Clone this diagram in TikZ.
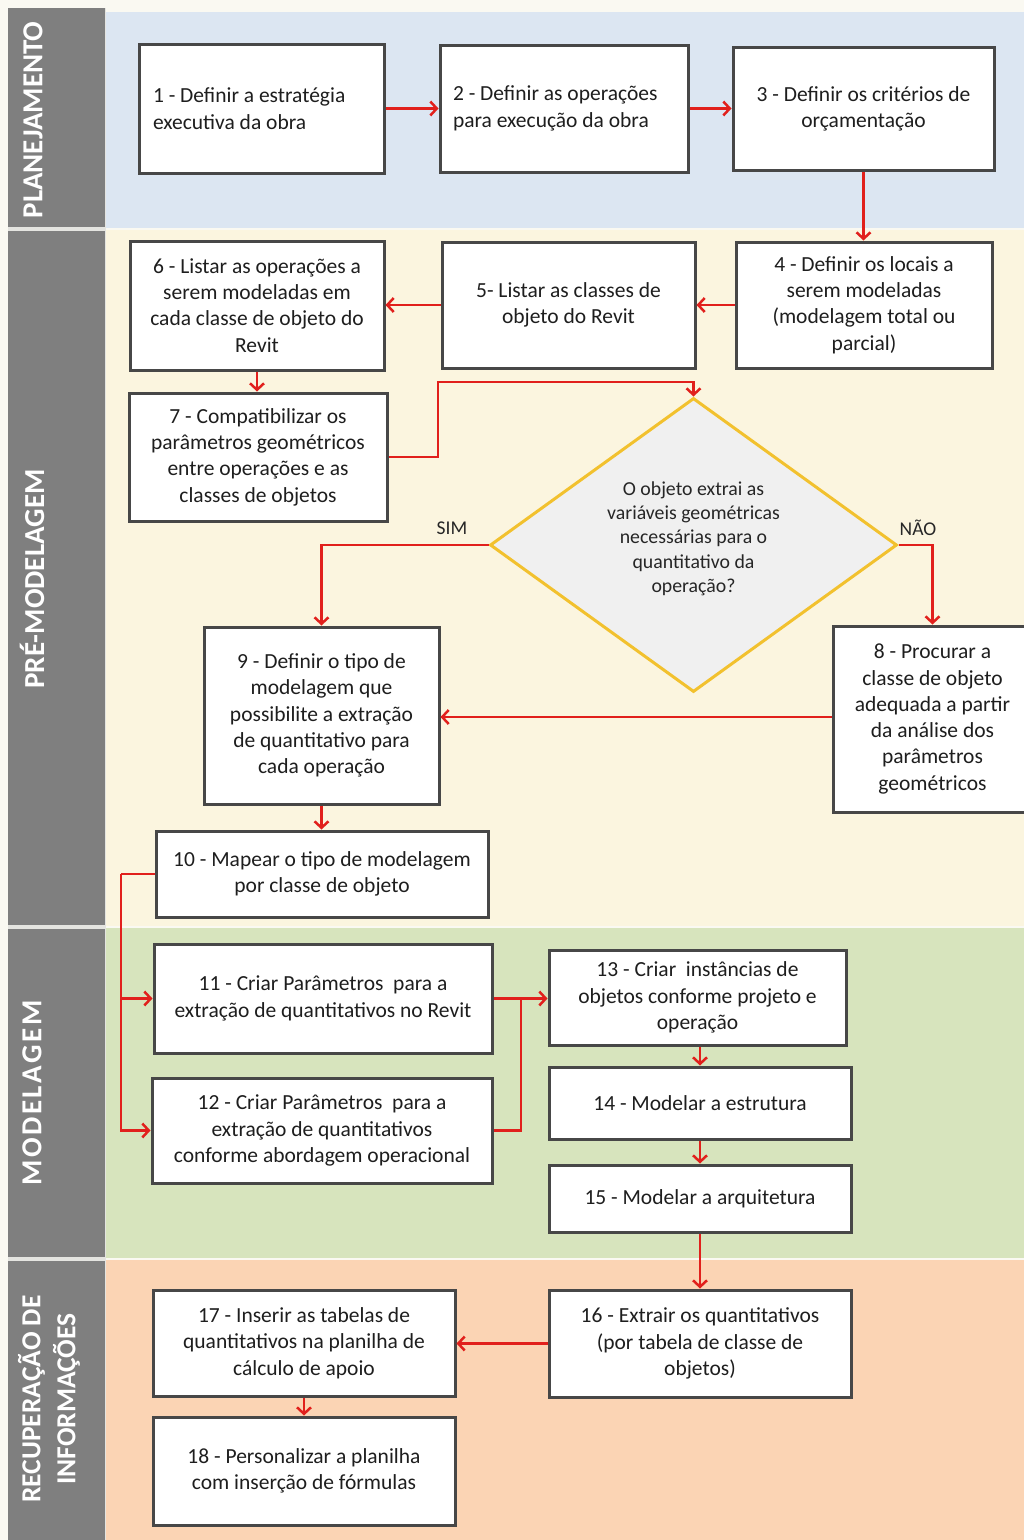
\documentclass[tikz,border=0pt]{standalone}
\usepackage{fontspec}
\setmainfont{Carlito}
\usetikzlibrary{arrows.meta,shapes.geometric}

\definecolor{lanegray}{HTML}{7F7F7F}
\definecolor{lanesep}{HTML}{E4E4E0}
\definecolor{pagebg}{HTML}{FAF9F2}
\definecolor{planbg}{HTML}{DCE6F2}
\definecolor{prebg}{HTML}{FBF5DF}
\definecolor{modbg}{HTML}{D7E4BD}
\definecolor{recbg}{HTML}{FBD4B4}
\definecolor{flowred}{HTML}{E1201C}
\definecolor{boxline}{HTML}{474747}
\definecolor{decline}{HTML}{F2C12E}
\definecolor{decfill}{HTML}{F0F0F0}
\definecolor{inktext}{HTML}{1E1E1E}

\begin{document}
\begin{tikzpicture}[x=1pt,y=-1pt,
  stepbox/.style={draw=boxline, line width=3pt, fill=white, align=center,
    inner sep=3pt, text=inktext, font=\fontsize{21.5}{26.3}\selectfont},
  leftbox/.style={stepbox, align=flush left},
  decision/.style={diamond, draw=decline, line width=3pt, fill=decfill,
    inner sep=0pt, shape aspect=1.38},
  qtext/.style={align=center, font=\fontsize{19.8}{24.3}\selectfont, text=black!85},
  branch/.style={font=\fontsize{19.5}{22}\selectfont, text=black!85},
  lanelbl/.style={text=white, rotate=90, align=center,
    font=\bfseries\fontsize{29}{35}\selectfont},
  wire/.style={draw=flowred, line width=2.5pt},
  flow/.style={wire, -{Straight Barb[length=6.5pt,width=14pt]}}
]
\useasboundingbox (0,0) rectangle (1024,1540);
\clip (0,0) rectangle (1024,1540);

% page and swimlane backgrounds
\fill[pagebg] (0,0) rectangle (1024,1540);
\fill[planbg] (106,12) rectangle (1024,228);
\fill[prebg]  (106,230) rectangle (1024,926);
\fill[modbg]  (106,928) rectangle (1024,1258);
\fill[recbg]  (106,1260) rectangle (1024,1540);

% lane title column
\fill[lanesep] (8,8) rectangle (106,1540);
\fill[lanegray] (8,8) rectangle (105,227);
\fill[lanegray] (8,231) rectangle (105,925);
\fill[lanegray] (8,929) rectangle (105,1257);
\fill[lanegray] (8,1261) rectangle (105,1540);

\node[lanelbl] (lplan) at (33,120) {PLANEJAMENTO};
\node[lanelbl] (lpre)  at (32,579) {PRÉ-MODELAGEM};
\node[lanelbl] (lmod)  at (32,1093) {\addfontfeatures{LetterSpace=9}MODELAGEM};
\node[lanelbl, font=\bfseries\fontsize{27.5}{35}\selectfont] (lrec) at (49,1399)
  {RECUPERAÇÃO DE\\INFORMAÇÕES};

% planning
\node[leftbox, minimum width=245pt, minimum height=129pt, text width=217pt] (n1) at (261.5,108.5)
  {1 - Definir a estratégia\\executiva da obra};
\node[leftbox, minimum width=248pt, minimum height=127pt, text width=222pt] (n2) at (564,108.5)
  {2 - Definir as operações\\para execução da obra};
\node[stepbox, minimum width=261pt, minimum height=123pt] (n3) at (863.5,108.5)
  {3 - Definir os critérios de\\orçamentação};

% pre-modelling
\node[stepbox, minimum width=256pt, minimum height=126pt] (n4) at (864,305)
  {4 - Definir os locais a\\serem modeladas\\(modelagem total ou\\parcial)};
\node[stepbox, minimum width=253pt, minimum height=126pt] (n5) at (568.5,305)
  {5- Listar as classes de\\objeto do Revit};
\node[stepbox, minimum width=254pt, minimum height=129pt] (n6) at (257,305.5)
  {6 - Listar as operações a\\serem modeladas em\\cada classe de objeto do\\Revit};
\node[stepbox, minimum width=258pt, minimum height=128pt] (n7) at (258,457)
  {7 - Compatibilizar os\\parâmetros geométricos\\entre operações e as\\classes de objetos};

\node[decision, minimum width=407pt, minimum height=294pt] (d) at (693.5,545) {};
\node[qtext] (dq) at (693.5,538.5)
  {O objeto extrai as\\variáveis geométricas\\necessárias para o\\quantitativo da\\operação?};
\node[branch] (sim) at (452,528) {SIM};
\node[branch] (nao) at (918,528) {NÃO};

\node[stepbox, minimum width=199pt, minimum height=186pt] (n8) at (932.5,719)
  {8 - Procurar a\\classe de objeto\\adequada a partir\\da análise dos\\parâmetros\\geométricos};
\node[stepbox, minimum width=235pt, minimum height=177pt] (n9) at (321.5,715.5)
  {9 - Definir o tipo de\\modelagem que\\possibilite a extração\\de quantitativo para\\cada operação};
\node[stepbox, minimum width=332pt, minimum height=86pt] (n10) at (322,874)
  {10 - Mapear o tipo de modelagem\\por classe de objeto};

% modelling
\node[stepbox, minimum width=338pt, minimum height=109pt] (n11) at (323,998.5)
  {11 - Criar Parâmetros\ \ para a\\extração de quantitativos no Revit};
\node[stepbox, minimum width=340pt, minimum height=105pt] (n12) at (322,1130.5)
  {12 - Criar Parâmetros\ \ para a\\extração de quantitativos\\conforme abordagem operacional};
\node[stepbox, minimum width=297pt, minimum height=95pt] (n13) at (697.5,997.5)
  {13 - Criar\ \ instâncias de\\objetos conforme projeto e\\operação};
\node[stepbox, minimum width=302pt, minimum height=72pt] (n14) at (700,1103)
  {14 - Modelar a estrutura};
\node[stepbox, minimum width=302pt, minimum height=67pt] (n15) at (700,1198.5)
  {15 - Modelar a arquitetura};

% information retrieval
\node[stepbox, minimum width=302pt, minimum height=107pt] (n16) at (700,1343.5)
  {16 - Extrair os quantitativos\\(por tabela de classe de\\objetos)};
\node[stepbox, minimum width=302pt, minimum height=106pt] (n17) at (304,1343)
  {17 - Inserir as tabelas de\\quantitativos na planilha de\\cálculo de apoio};
\node[stepbox, minimum width=302pt, minimum height=108pt] (n18) at (304,1471)
  {18 - Personalizar a planilha\\com inserção de fórmulas};

% connectors
\coordinate (k7) at (438,382);
\coordinate (bus) at (121,874);
\coordinate (j) at (521,998.5);

\draw[flow] (n1.east) -- (n2.west);
\draw[flow] (n2.east) -- (n3.west);
\draw[flow] (n3.south) -- (n3.south |- n4.north);
\draw[flow] (n4.west) -- (n5.east);
\draw[flow] (n5.west) -- (n5.west -| n6.east);
\draw[flow] (n6.south) -- (n6.south |- n7.north);
\draw[flow] (n7.east) -| (k7) -| (d.north);
\draw[flow] (d.west) -| (n9.north);
\draw[flow] (d.east) -| (n8.north);
\draw[flow] (n8.west |- 0,717) -- (n9.east |- 0,717);
\draw[flow] (n9.south) -- (n9.south |- n10.north);
\draw[wire] (n10.west) -- (bus);
\draw[flow] (bus) |- (n11.west);
\draw[flow] (bus) |- (n12.west);
\draw[flow] (n11.east) -- (n11.east -| n13.west);
\draw[wire] (n12.east) -| (j);
\draw[flow] (n13.south -| n14.north) -- (n14.north);
\draw[flow] (n14.south) -- (n15.north);
\draw[flow] (n15.south) -- (n16.north);
\draw[flow] (n16.west) -- (n16.west -| n17.east);
\draw[flow] (n17.south) -- (n18.north);
\end{tikzpicture}
\end{document}
